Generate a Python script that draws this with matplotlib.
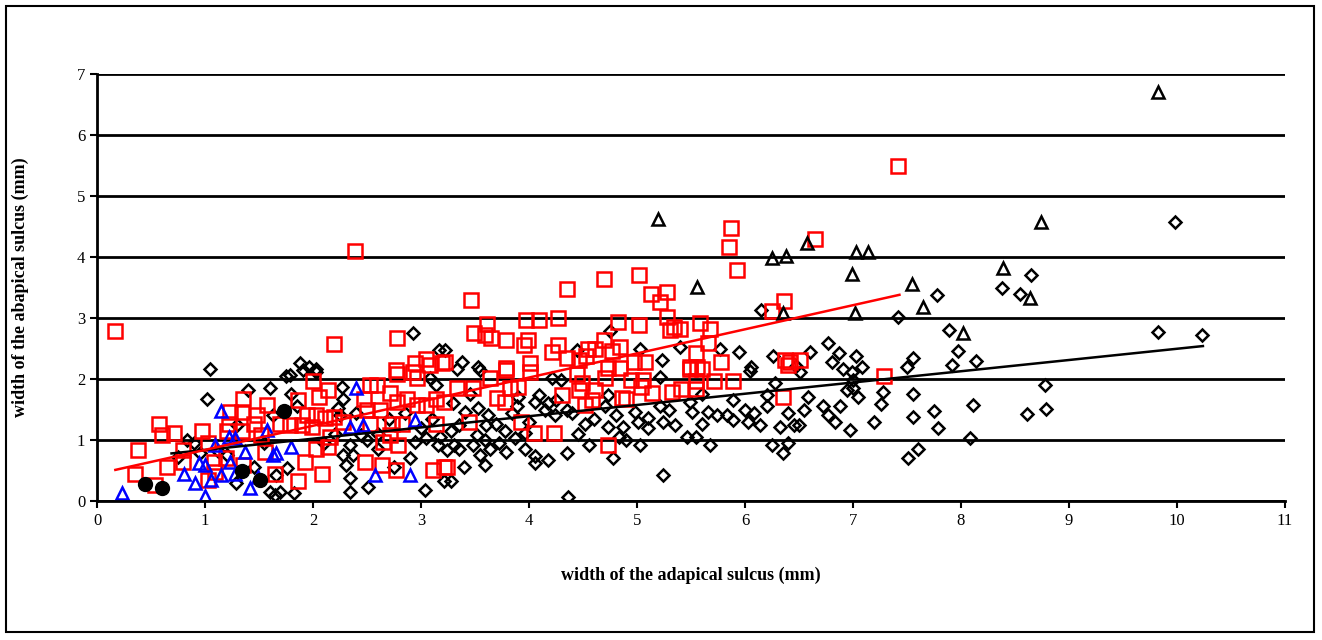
import matplotlib
matplotlib.use("Agg")
import matplotlib.pyplot as plt
from matplotlib.patches import Rectangle

plt.rcParams["font.family"] = ["Liberation Serif", "DejaVu Serif"]

# black open diamonds
diamond_x = [1.05, 1.40, 1.02, 0.83, 1.29, 1.65,
             2.93, 3.17, 1.88, 1.96, 2.03,
             4.75, 3.22, 3.38, 3.53, 4.44,
             6.15, 5.03, 5.40, 5.94, 5.23, 5.77, 6.26, 6.06,
             7.78, 7.42, 7.89, 8.38, 8.55, 8.65, 6.77, 6.87, 6.81, 7.03, 7.08, 6.91,
             6.99, 7.00, 7.00, 6.94, 7.05, 7.56, 7.50, 7.97, 7.92, 8.14, 6.51, 6.58,
             6.72, 6.77, 6.83, 6.88, 6.97, 7.19, 7.26, 7.28, 7.56, 7.56, 7.75, 7.79,
             8.11, 8.08, 7.60, 7.51, 8.61, 6.50,
             9.82, 10.23, 8.78, 8.79, 9.98,
             6.05, 6.28, 6.20, 6.40, 6.32, 6.45, 6.25, 6.35, 6.40, 6.08, 6.14, 6.03,
             5.89, 5.83, 5.89, 5.74, 5.66, 5.60, 5.51, 5.49, 5.55, 5.46, 5.68, 5.35,
             5.24, 5.21, 5.10, 5.01, 4.98, 4.87, 5.03, 5.24, 5.21,
             3.33, 3.55, 4.09, 4.06, 4.18, 4.24, 4.15, 4.30, 4.21, 3.41, 3.53, 3.62,
             3.69, 3.84, 3.89, 3.78, 3.87, 3.96, 3.59, 3.52, 3.48, 3.64, 3.72, 3.79,
             3.96, 4.06, 4.18, 4.06, 3.55, 3.59, 4.35, 3.28, 3.31, 3.28, 4.36, 4.52,
             4.56, 4.78, 4.73, 4.81, 4.83, 4.70, 4.73, 3.24, 3.35,
             1.79, 1.91, 2.03, 2.27, 2.28, 2.34, 2.28, 2.37, 2.31, 2.34, 2.34, 2.51,
             2.50, 2.44, 2.94, 3.05, 3.16, 3.18, 3.04, 3.21, 1.76, 1.69, 1.82, 1.60,
             1.66, 1.63, 1.85, 3.08, 3.14, 2.23, 2.25,
             0.75, 0.90, 1.12, 1.20, 1.45, 1.30, 1.55, 0.95, 1.60, 1.75, 1.80, 2.10,
             2.20, 2.40, 2.60, 2.70, 2.85, 3.00, 3.10, 3.30, 3.45, 3.60, 3.90, 4.00,
             4.40, 4.60, 4.90, 5.10, 5.30, 5.60, 6.00, 6.20, 6.55, 4.25, 4.45, 4.35,
             2.60, 2.90, 3.40, 2.75, 3.35, 6.47, 6.60]
diamond_y = [2.17, 1.82, 1.68, 1.00, 0.29, 0.10,
             2.76, 2.48, 2.26, 2.20, 2.17,
             2.78, 2.48, 2.28, 2.20, 2.48,
             3.13, 2.50, 2.53, 2.45, 2.31, 2.50, 2.37, 2.20,
             3.37, 3.01, 2.80, 3.49, 3.40, 3.70, 2.59, 2.42, 2.28, 2.37, 2.20, 2.16,
             2.12, 1.98, 1.86, 1.82, 1.71, 2.34, 2.19, 2.46, 2.23, 2.30, 2.12, 1.70,
             1.55, 1.41, 1.30, 1.56, 1.16, 1.30, 1.59, 1.79, 1.75, 1.38, 1.48, 1.20,
             1.57, 1.03, 0.85, 0.70, 1.42, 1.25,
             2.77, 2.72, 1.90, 1.51, 4.57,
             2.13, 1.93, 1.74, 1.44, 1.22, 1.25, 0.92, 0.78, 0.95, 1.44, 1.25, 1.30,
             1.66, 1.41, 1.33, 1.41, 1.46, 1.27, 1.46, 1.63, 1.05, 1.05, 0.92, 1.25,
             1.30, 1.55, 1.36, 1.30, 1.46, 1.22, 0.92, 0.43, 2.04,
             2.17, 2.15, 1.74, 1.63, 1.60, 1.41, 1.49, 1.98, 2.01, 1.46, 1.52, 1.41,
             1.27, 1.44, 1.55, 1.14, 1.03, 1.11, 1.00, 1.08, 0.92, 0.86, 0.95, 0.81,
             0.86, 0.73, 0.67, 0.62, 0.75, 0.59, 0.78, 1.14, 0.92, 0.32, 0.07, 1.27,
             0.92, 0.70, 1.22, 1.41, 1.05, 1.55, 1.74, 0.84, 1.25,
             2.07, 2.15, 2.12, 1.87, 1.68, 0.92, 0.75, 0.75, 0.59, 0.37, 0.15, 0.23,
             1.00, 1.08, 0.97, 1.03, 0.92, 1.05, 0.18, 0.32, 0.54, 0.15, 0.13, 0.15,
             0.43, 1.41, 1.55, 2.01, 1.90, 1.52, 1.41,
             0.72, 0.95, 0.82, 0.75, 0.55, 1.25, 0.95, 0.78, 1.85, 2.05, 1.75, 0.95,
             1.10, 1.45, 1.10, 1.35, 1.45, 1.20, 1.35, 1.60, 1.75, 1.25, 1.70, 1.30,
             1.45, 1.35, 1.00, 1.20, 1.50, 1.75, 1.50, 1.55, 1.50, 1.65, 1.10, 1.50,
             0.85, 0.70, 0.55, 0.55, 0.85, 2.22, 2.45]

# red open squares
square_x = [0.17, 2.39, 2.19, 2.78, 3.05, 2.94, 3.19, 2.77,
            3.46, 4.35, 4.69, 3.61, 3.97, 4.09, 4.27, 4.82, 3.49, 3.59, 3.65, 3.79,
            3.99, 3.95, 4.27, 4.21, 4.35, 4.55, 4.61, 4.69, 4.77, 4.53, 4.46, 4.01,
            3.79, 4.73, 4.84, 3.22,
            5.87, 5.85, 5.93, 5.02, 5.13, 5.28, 5.21, 6.25, 6.36, 5.02, 5.28, 5.31,
            5.34, 5.40, 5.58, 5.68, 5.66, 5.55, 4.84, 4.97, 5.07, 5.49, 5.56, 5.78,
            6.37, 6.42,
            6.65, 6.51, 7.29, 7.42,
            4.94, 5.06, 5.04, 5.14, 4.90, 5.32, 5.41, 5.49, 5.60, 5.55, 5.55, 5.71,
            5.89, 6.35, 6.40,
            3.79, 4.01, 3.64, 3.33, 3.48, 3.70, 3.78, 3.90, 3.82, 4.31, 4.44, 4.49,
            4.46, 4.61, 4.70, 4.52, 4.58, 3.44, 3.93, 4.05, 4.23, 4.73, 3.24, 4.86,
            2.00, 2.14, 2.06, 1.86, 1.94, 2.03, 2.11, 2.19, 1.99, 1.90, 1.79, 1.69,
            2.16, 2.14, 2.03, 1.93, 1.86, 2.08, 1.65, 2.53, 2.59, 2.71, 2.78, 2.93,
            2.96, 2.47, 2.50, 2.62, 2.78, 2.87, 2.96, 3.05, 3.14, 3.21, 2.28, 2.53,
            2.73, 2.82, 2.71, 2.65, 2.79, 2.48, 2.64, 2.77, 3.11, 3.21, 3.14, 3.08,
            1.35, 1.23, 1.34, 1.57, 0.57, 0.60, 0.71, 0.38, 0.65, 0.35, 0.54, 0.97,
            1.03, 0.80, 0.80, 1.20, 1.34, 1.45, 1.48, 1.52, 1.56, 1.08, 1.19, 1.35,
            1.03, 1.22, 1.09]
square_y = [2.78, 4.10, 2.57, 2.67, 2.33, 2.26, 2.26, 2.15,
            3.30, 3.47, 3.64, 2.90, 2.96, 2.96, 3.00, 2.94, 2.75, 2.72, 2.67, 2.64,
            2.64, 2.55, 2.56, 2.45, 2.34, 2.49, 2.50, 2.64, 2.46, 2.37, 2.31, 2.26,
            2.18, 2.18, 2.18, 2.28,
            4.47, 4.17, 3.79, 3.70, 3.40, 3.43, 3.27, 3.11, 3.28, 2.89, 3.01, 2.80,
            2.86, 2.82, 2.91, 2.82, 2.59, 2.42, 2.53, 2.28, 2.28, 2.20, 2.20, 2.28,
            2.31, 2.28,
            4.30, 2.31, 2.05, 5.49,
            1.98, 1.98, 1.87, 1.77, 1.68, 1.79, 1.84, 2.17, 2.17, 1.96, 1.84, 1.96,
            1.96, 1.71, 2.23,
            2.15, 2.12, 2.01, 1.85, 1.85, 1.69, 1.63, 1.87, 1.85, 1.74, 2.08, 1.93,
            1.82, 1.82, 2.01, 1.57, 1.66, 1.30, 1.30, 1.11, 1.11, 0.91, 0.56, 1.69,
            1.96, 1.82, 1.71, 1.66, 1.41, 1.41, 1.36, 1.38, 1.22, 1.25, 1.25, 1.27,
            1.05, 0.89, 0.86, 0.64, 0.32, 0.45, 0.45, 1.90, 1.90, 1.77, 2.09, 2.12,
            2.01, 1.68, 1.49, 1.49, 1.63, 1.68, 1.57, 1.57, 1.68, 1.63, 1.30, 1.27,
            1.27, 1.27, 1.08, 0.97, 0.92, 0.64, 0.59, 0.51, 0.51, 0.56, 1.27, 2.23,
            1.68, 1.46, 1.46, 1.57, 1.27, 1.08, 1.11, 0.84, 0.56, 0.45, 0.26, 1.14,
            0.95, 0.84, 0.64, 1.14, 1.14, 1.27, 1.41, 1.08, 0.81, 0.64, 0.70, 0.59,
            0.34, 1.27, 0.48]

# blue open triangles
blue_x = [0.23, 1.15, 1.00, 0.81, 0.91, 0.94, 1.00, 1.06, 1.15, 1.22, 1.28, 1.09,
          1.23, 1.28, 1.37, 1.49, 1.42, 1.57, 1.63, 1.66, 1.80, 2.40, 2.34, 2.46,
          2.57, 2.94, 2.90]
blue_y = [0.13, 1.48, 0.08, 0.45, 0.29, 0.62, 0.59, 0.34, 0.43, 1.05, 1.03, 0.92,
          0.64, 0.45, 0.81, 0.40, 0.21, 1.16, 0.75, 0.78, 0.89, 1.85, 1.22, 1.25,
          0.43, 1.33, 0.43]

# black open triangles
tri_x = [9.82, 5.19, 8.74, 6.57, 7.03, 7.14, 6.99, 7.55, 7.65, 7.02, 8.02, 8.39,
         8.64, 5.56, 6.25, 6.38, 6.35]
tri_y = [6.70, 4.62, 4.57, 4.23, 4.08, 4.08, 3.72, 3.56, 3.18, 3.08, 2.75, 3.82,
         3.33, 3.51, 3.98, 4.02, 3.08]

# black filled circles
dot_x = [0.44, 0.60, 1.34, 1.51, 1.73]
dot_y = [0.28, 0.21, 0.49, 0.34, 1.48]

# trend lines (end points)
red_fit_x = [0.17, 7.43]
red_fit_y = [0.51, 3.38]
black_fit_x = [0.69, 10.24]
black_fit_y = [0.78, 2.54]

fig = plt.figure(figsize=(13.22, 6.40), dpi=100)
ax = fig.add_axes([97 / 1322, 139 / 640, 1188 / 1322, 427 / 640])

ax.plot(diamond_x, diamond_y, "D", ms=6.6, mfc="none", mec="black", mew=1.8, ls="none")
ax.plot(square_x, square_y, "s", ms=9.5, mfc="none", mec="#ff0000", mew=1.8, ls="none")
ax.plot(tri_x, tri_y, "^", ms=9, mfc="none", mec="black", mew=1.8, ls="none")
ax.plot(blue_x, blue_y, "^", ms=9, mfc="none", mec="#0000ff", mew=1.8, ls="none")
ax.plot(dot_x, dot_y, "o", ms=10, mfc="black", mec="black", ls="none")
ax.plot(black_fit_x, black_fit_y, color="black", lw=1.8)
ax.plot(red_fit_x, red_fit_y, color="#ff0000", lw=1.8)

ax.set_xlim(0, 11)
ax.set_ylim(0, 7)
ax.set_xticks(range(0, 12))
ax.set_yticks(range(0, 8))
ax.yaxis.grid(True, color="black", lw=2.0)
ax.set_axisbelow(True)
for s in ["top", "right"]:
    ax.spines[s].set_visible(False)
for s in ["left", "bottom"]:
    ax.spines[s].set_linewidth(2.0)
ax.tick_params(direction="out", length=5, width=1.5, labelsize=12)

ax.set_xlabel("width of the adapical sulcus (mm)", fontsize=13, fontweight="bold")
ax.set_ylabel("width of the abapical sulcus (mm)", fontsize=13, fontweight="bold")
ax.xaxis.set_label_coords(0.5, -0.155)
ax.yaxis.set_label_coords(-0.057, 0.5)

fig.patches.append(Rectangle((6 / 1322, 8 / 640), 1308 / 1322, 626 / 640,
                             transform=fig.transFigure, fill=False, ec="black", lw=1.5))

fig.savefig("out.png", dpi=100)
